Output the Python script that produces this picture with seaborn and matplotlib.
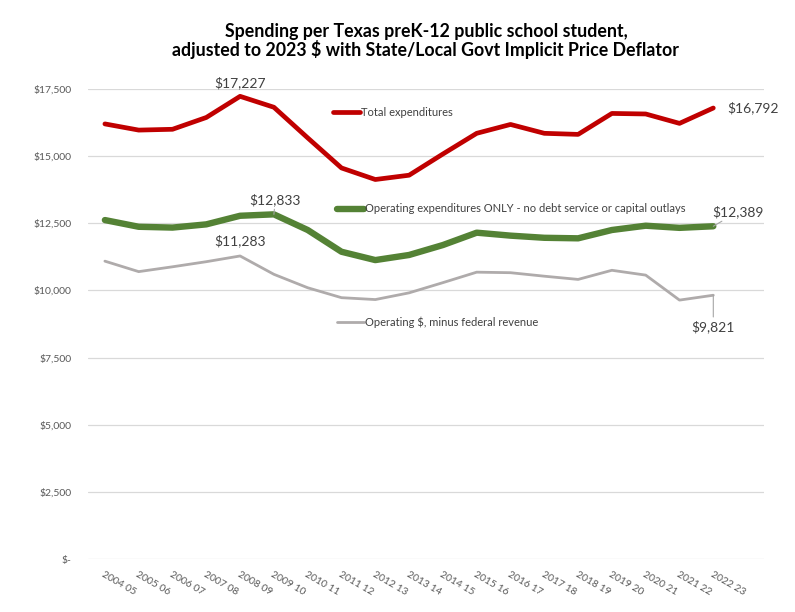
import numpy as np
import pandas as pd
import seaborn as sns
import matplotlib.pyplot as plt
from matplotlib.lines import Line2D
from matplotlib.ticker import FuncFormatter

# school years (x categories)
years = ["2004 05", "2005 06", "2006 07", "2007 08", "2008 09", "2009 10",
         "2010 11", "2011 12", "2012 13", "2013 14", "2014 15", "2015 16",
         "2016 17", "2017 18", "2018 19", "2019 20", "2020 21", "2021 22",
         "2022 23"]

# spending per student, 2023 $
total_exp = [16200, 15970, 16000, 16440, 17227, 16820, 15680, 14560, 14130,
             14290, 15080, 15850, 16180, 15850, 15810, 16590, 16570, 16220,
             16792]
operating_exp = [12620, 12370, 12340, 12460, 12780, 12833, 12250, 11440,
                 11130, 11320, 11690, 12150, 12040, 11960, 11940, 12250,
                 12410, 12330, 12389]
operating_minus_fed = [11090, 10700, 10880, 11070, 11283, 10600, 10100, 9730,
                       9660, 9910, 10290, 10680, 10660, 10530, 10410, 10750,
                       10570, 9640, 9821]

series_names = ["Total expenditures",
                "Operating expenditures ONLY - no debt service or capital outlays",
                "Operating $, minus federal revenue"]

df = pd.DataFrame({
    "pos": np.tile(np.arange(len(years)), 3),
    "value": total_exp + operating_exp + operating_minus_fed,
    "series": np.repeat(series_names, len(years)),
})

colors = {series_names[0]: "#C00000", series_names[1]: "#548235",
          series_names[2]: "#AFABAB"}
widths = {series_names[0]: 3.4, series_names[1]: 4.6, series_names[2]: 2.0}

sns.set_style("white")
plt.rcParams["font.family"] = ["Lato", "DejaVu Sans"]

fig = plt.figure(figsize=(7.95, 6.12), dpi=100)
ax = fig.add_axes([88 / 795, 1 - 559 / 612, (764 - 88) / 795, (559 - 89) / 612])

for name in series_names:
    sub = df[df["series"] == name]
    sns.lineplot(data=sub, x="pos", y="value", ax=ax, color=colors[name],
                 linewidth=widths[name], solid_capstyle="round",
                 solid_joinstyle="round", legend=False)

ax.set_xlim(-0.5, 19.5)
ax.set_ylim(0, 17500)
ax.set_yticks(np.arange(0, 17501, 2500))
ax.yaxis.set_major_formatter(FuncFormatter(lambda v, p: "$-" if v == 0 else f"${v:,.0f}"))
ax.grid(axis="y", color="#D9D9D9", linewidth=0.9)
ax.set_axisbelow(True)
for s in ax.spines.values():
    s.set_visible(False)
ax.set_xlabel("")
ax.set_ylabel("")
ax.tick_params(axis="y", length=0, pad=12, labelsize=7.5, labelcolor="#595959")
ax.set_xticks(np.arange(len(years)))
ax.set_xticklabels(years, rotation=-30, ha="left", va="top",
                   rotation_mode="anchor", fontsize=7.5, color="#595959")
ax.tick_params(axis="x", length=0, pad=8)

ax.set_title("Spending per Texas preK-12 public school student,\n"
             "adjusted to 2023 $ with State/Local Govt Implicit Price Deflator",
             fontsize=12.8, fontweight="bold", color="#000000", pad=24,
             linespacing=0.98)

# data labels
lab = dict(fontsize=10, color="#404040")
lead = dict(arrowstyle="-", color="#A6A6A6", lw=0.8, shrinkA=0, shrinkB=0)
ax.annotate(f"${total_exp[4]:,}", (4, total_exp[4]), xytext=(0, 5),
            textcoords="offset points", ha="center", va="bottom", **lab)
ax.annotate(f"${total_exp[-1]:,}", (18, total_exp[-1]), xytext=(10, 0),
            textcoords="offset points", ha="left", va="center", **lab)
ax.annotate(f"${operating_exp[5]:,}", (5, operating_exp[5]), xytext=(1, 6),
            textcoords="offset points", ha="center", va="bottom",
            arrowprops=lead, **lab)
ax.annotate(f"${operating_exp[-1]:,}", (18, operating_exp[-1]), xytext=(18, 6),
            textcoords="offset points", ha="center", va="bottom",
            arrowprops=lead, **lab)
ax.annotate(f"${operating_minus_fed[4]:,}", (4, operating_minus_fed[4]), xytext=(0, 6),
            textcoords="offset points", ha="center", va="bottom", **lab)
ax.annotate(f"${operating_minus_fed[-1]:,}", (18, operating_minus_fed[-1]), xytext=(0, -18),
            textcoords="offset points", ha="center", va="top",
            arrowprops=lead, **lab)

# legend entries placed individually inside the plot
legend_pos = [(333, 112), (337, 209), (337, 322)]
for i, name in enumerate(series_names):
    h = Line2D([0], [0], color=colors[name], linewidth=widths[name])
    x_px, y_px = legend_pos[i]
    leg = fig.legend([h], [name], loc="center left",
                     bbox_to_anchor=(x_px / 795, 1 - y_px / 612),
                     frameon=False, fontsize=8, handlelength=2.4,
                     handletextpad=0.15, borderpad=0, borderaxespad=0,
                     labelcolor="#404040")

fig.savefig("out.png", dpi=100)
